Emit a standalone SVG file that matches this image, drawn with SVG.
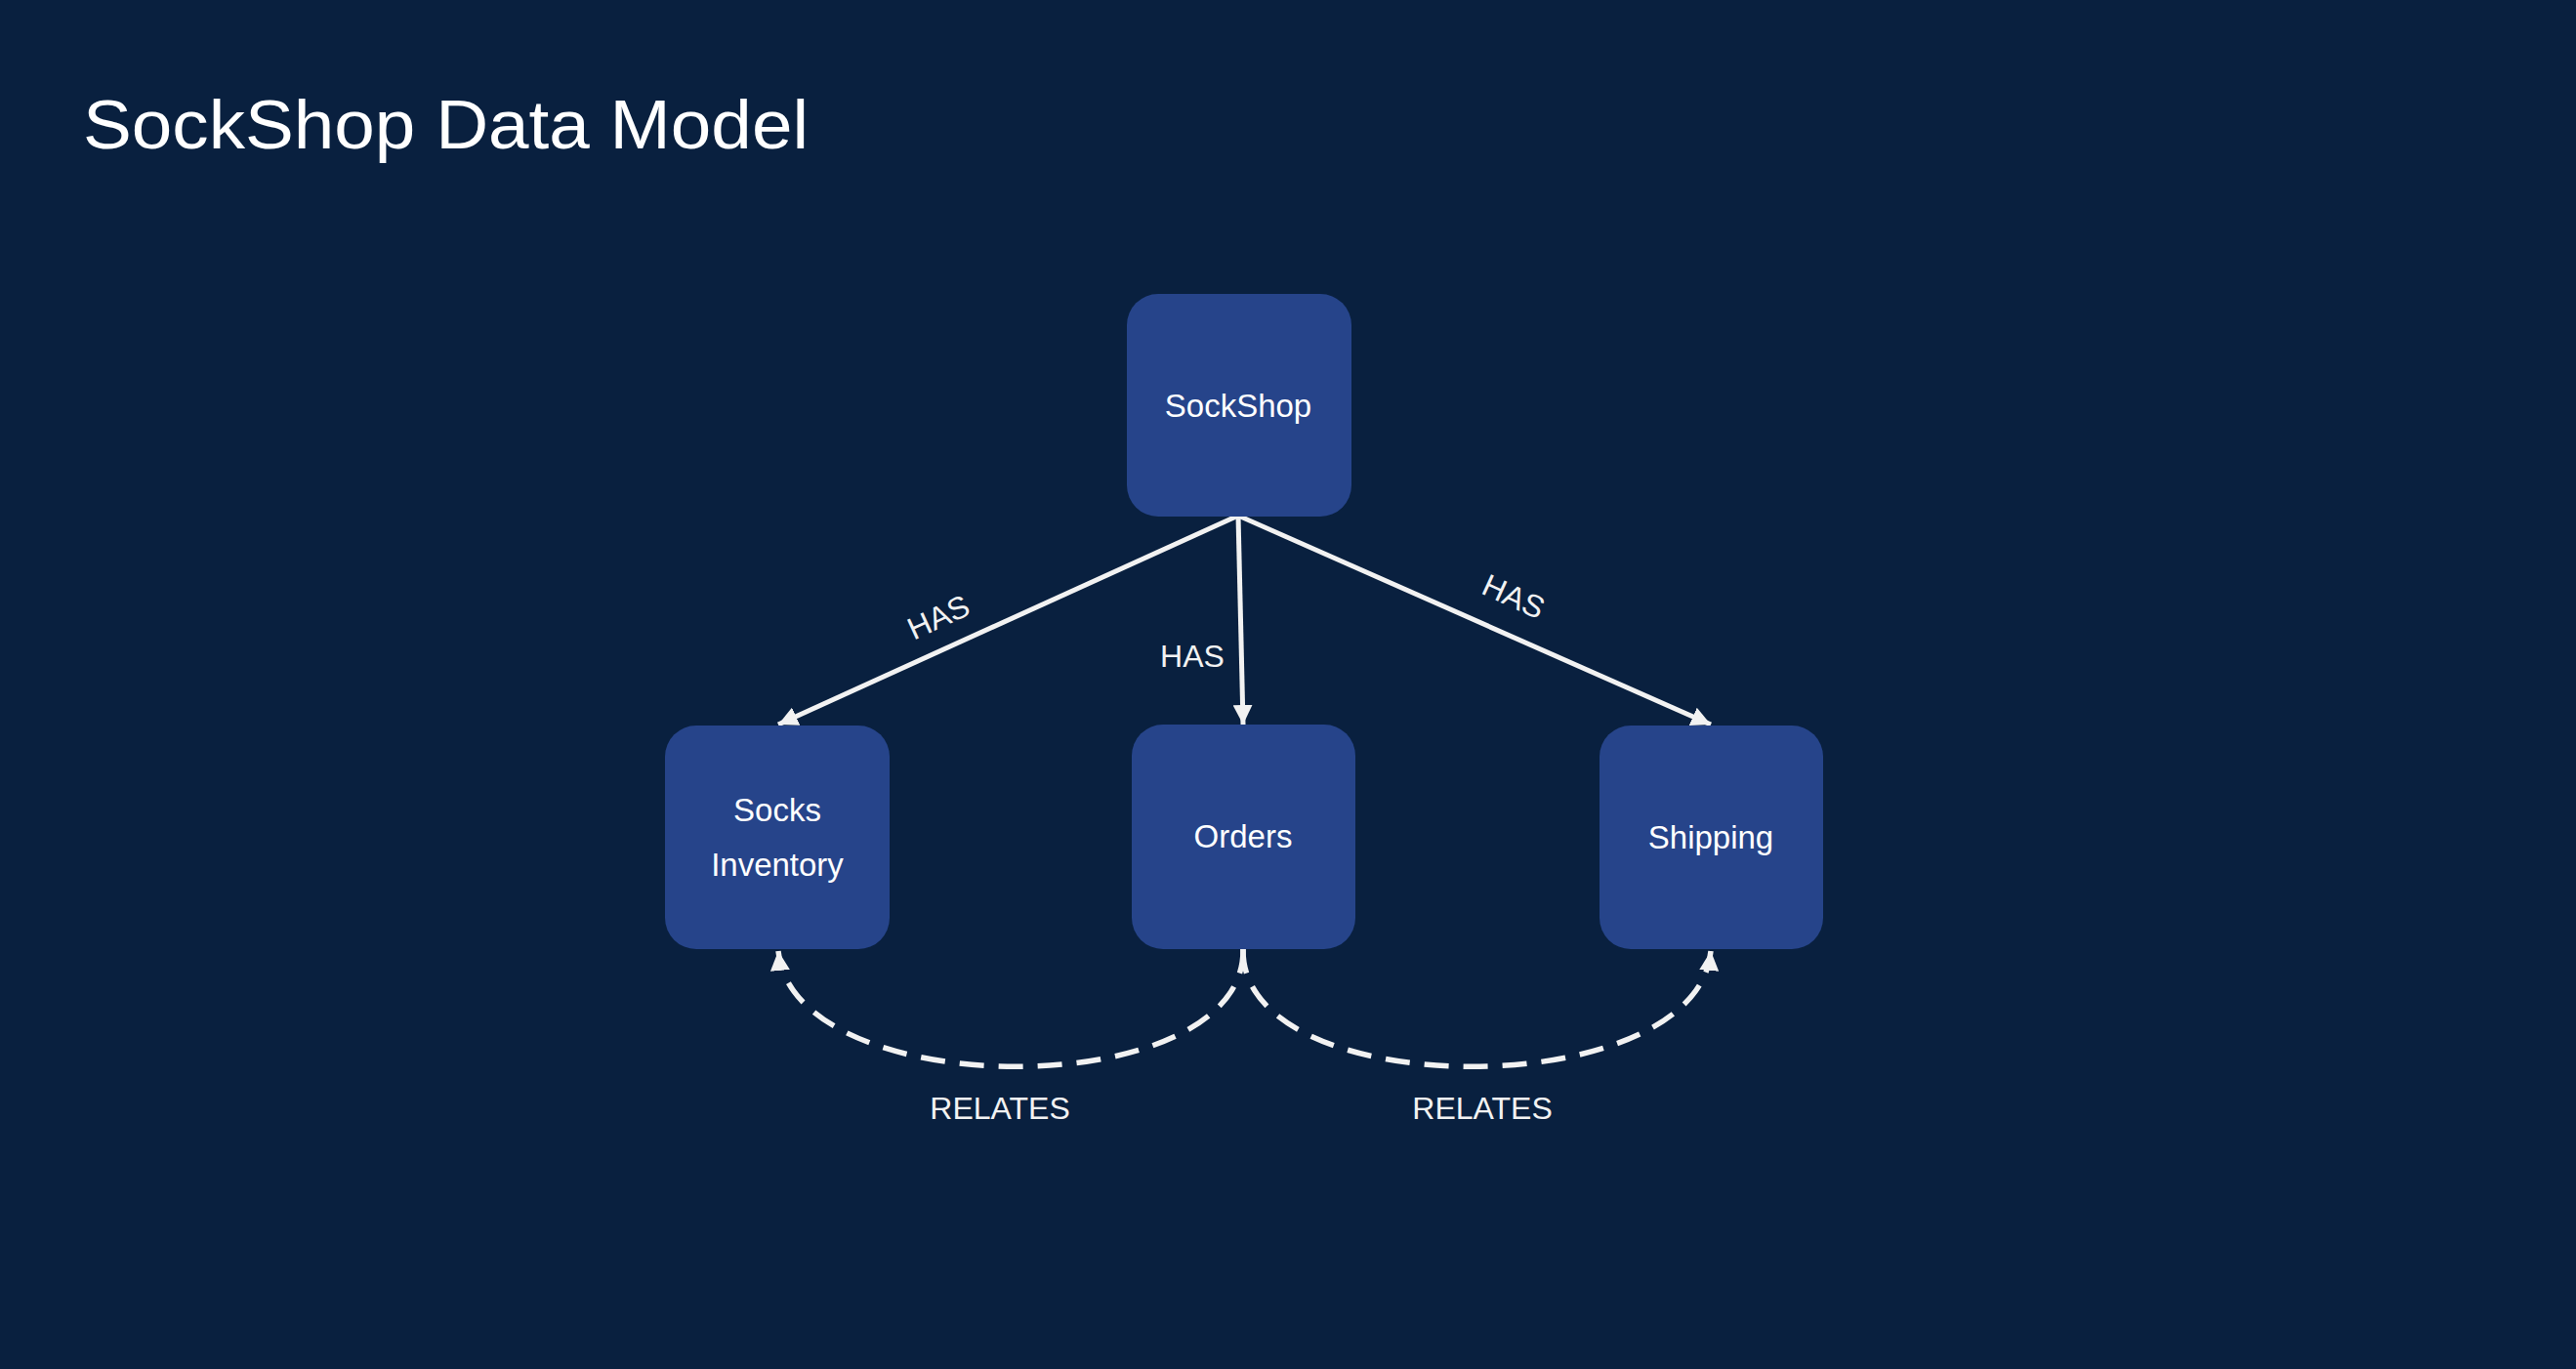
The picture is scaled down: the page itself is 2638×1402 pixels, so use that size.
<svg xmlns="http://www.w3.org/2000/svg" width="2638" height="1402" viewBox="0 0 2638 1402">
<style>
.node{fill:#26448a}
.nt{font-family:"Liberation Sans",Arial,sans-serif;font-size:33px;fill:#ffffff;text-anchor:middle}
.lbl{font-family:"Liberation Sans",Arial,sans-serif;font-size:32px;fill:#f2f2f2;text-anchor:middle}
.edge{stroke:#f2f2f2;stroke-width:5;fill:none}
.dash{stroke:#f2f2f2;stroke-width:5.5;fill:none;stroke-dasharray:25 15}
</style>
<defs>
<marker id="arr" markerUnits="userSpaceOnUse" markerWidth="20" markerHeight="20" viewBox="0 0 18 18" refX="18" refY="9" orient="auto">
<path d="M0,0 L18,9 L0,18 Z" fill="#f2f2f2"/>
</marker>
</defs>
<rect width="2638" height="1402" fill="#09203f"/>
<text x="85" y="152" font-family="Liberation Sans, Arial, sans-serif" font-size="70" fill="#ffffff" textLength="743" lengthAdjust="spacingAndGlyphs">SockShop Data Model</text>
<g id="connectors">
<path class="edge" d="M1268,528 L797,742" marker-end="url(#arr)"/>
<path class="edge" d="M1268,528 L1273,742" marker-end="url(#arr)"/>
<path class="edge" d="M1268,528 L1752,742" marker-end="url(#arr)"/>
<path class="dash" d="M1273,972 C1276,1132 812,1132 797,974" marker-end="url(#arr)"/>
<path class="dash" d="M1273,972 C1270,1132 1738,1132 1752,974" marker-end="url(#arr)"/>
<text class="lbl" transform="translate(961,632) rotate(-24.5)" y="11">HAS</text>
<text class="lbl" x="1221" y="683">HAS</text>
<text class="lbl" transform="translate(1550,611) rotate(24.5)" y="11">HAS</text>
<text class="lbl" x="1024" y="1146">RELATES</text>
<text class="lbl" x="1518" y="1146">RELATES</text>
</g>
<g id="sockshop">
<rect class="node" x="1154" y="301" width="230" height="228" rx="32"/>
<text class="nt" x="1268" y="427">SockShop</text>
</g>
<g id="socks-inventory">
<rect class="node" x="681" y="743" width="230" height="229" rx="32"/>
<text class="nt" x="796" y="841">Socks</text>
<text class="nt" x="796" y="897">Inventory</text>
</g>
<g id="orders">
<rect class="node" x="1159" y="742" width="229" height="230" rx="32"/>
<text class="nt" x="1273" y="868">Orders</text>
</g>
<g id="shipping">
<rect class="node" x="1638" y="743" width="229" height="229" rx="32"/>
<text class="nt" x="1752" y="869">Shipping</text>
</g>
</svg>
